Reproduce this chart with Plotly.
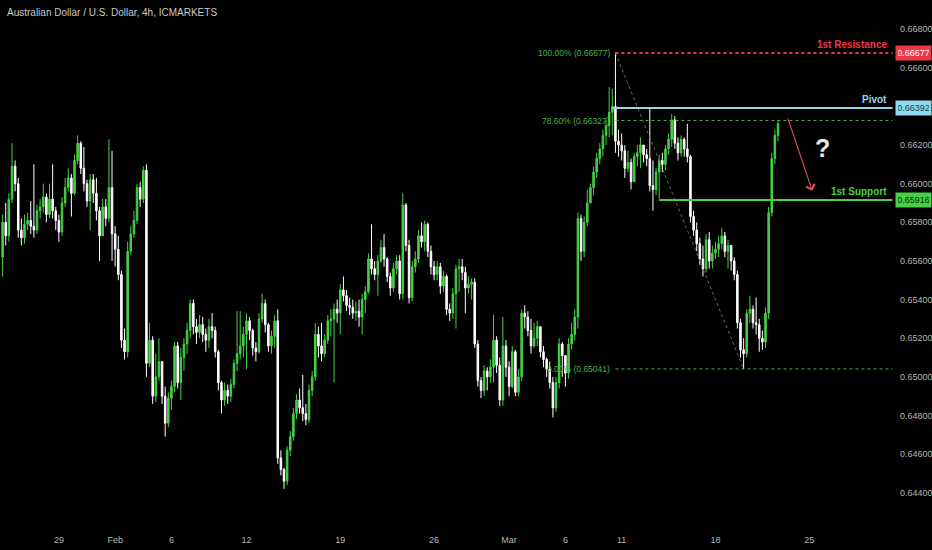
import pandas as pd
import plotly.graph_objects as go

# ---------------- data (prices in pips, 1 pip = 0.0001) ----------------
first_open = 6562
close_pips = [
    6580, 6573, 6592, 6609, 6600, 6576,
    6572, 6579, 6581, 6578, 6576, 6586,
    6588, 6593, 6584, 6592, 6586, 6581,
    6575, 6590, 6598, 6603, 6595, 6612,
    6621, 6608, 6600, 6591, 6602, 6595,
    6586, 6573, 6588, 6582, 6598, 6574,
    6566, 6553, 6519, 6513, 6565, 6574,
    6581, 6598, 6592, 6607, 6507, 6519,
    6490, 6500, 6508, 6490, 6476, 6489,
    6495, 6516, 6497, 6510, 6517, 6524,
    6538, 6526, 6523, 6527, 6522, 6519,
    6526, 6524, 6513, 6497, 6488, 6493,
    6490, 6496, 6507, 6512, 6516, 6522,
    6529, 6524, 6515, 6513, 6530, 6538,
    6527, 6516, 6521, 6529, 6458, 6452,
    6446, 6462, 6469, 6481, 6488, 6484,
    6481, 6478, 6493, 6500, 6522, 6516,
    6512, 6519, 6529, 6530, 6535, 6533,
    6545, 6542, 6537, 6536, 6533, 6534,
    6531, 6540, 6544, 6561, 6556, 6553,
    6560, 6567, 6561, 6552, 6546, 6556,
    6560, 6543, 6589, 6568, 6541, 6557,
    6561, 6573, 6570, 6579, 6565, 6557,
    6553, 6557, 6547, 6552, 6535, 6533,
    6543, 6556, 6557, 6554, 6546, 6548,
    6549, 6517, 6498, 6493, 6503, 6500,
    6505, 6519, 6506, 6488, 6516, 6505,
    6495, 6513, 6492, 6500, 6533, 6531,
    6524, 6516, 6520, 6526, 6513, 6509,
    6504, 6497, 6484, 6497, 6517, 6511,
    6502, 6517, 6522, 6531, 6582, 6565,
    6580, 6590, 6598, 6606, 6613, 6618,
    6625, 6630, 6637, 6640, 6622, 6620,
    6617, 6608, 6611, 6601, 6614, 6616,
    6620, 6615, 6613, 6599, 6597, 6606,
    6612, 6610, 6618, 6623, 6633, 6621,
    6616, 6623, 6618, 6614, 6583, 6576,
    6569, 6561, 6556, 6571, 6560, 6564,
    6566, 6569, 6573, 6565, 6568, 6560,
    6553, 6528, 6514, 6512, 6533, 6535,
    6528, 6527, 6520, 6518, 6533, 6585,
    6613, 6625, 6631,
]
high_pips = [
    6584, 6590, 6595, 6621, 6612, 6603,
    6582, 6584, 6585, 6591, 6610, 6589,
    6592, 6600, 6595, 6600, 6610, 6588,
    6584, 6593, 6603, 6608, 6605, 6615,
    6625, 6622, 6619, 6602, 6605, 6605,
    6603, 6588, 6592, 6592, 6623, 6617,
    6578, 6573, 6555, 6525, 6570, 6578,
    6586, 6600, 6601, 6609, 6610, 6528,
    6521, 6512, 6520, 6508, 6495, 6492,
    6498, 6518, 6518, 6515, 6520, 6528,
    6540, 6540, 6530, 6532, 6531, 6525,
    6530, 6533, 6526, 6514, 6498, 6497,
    6496, 6499, 6509, 6534, 6534, 6526,
    6533, 6531, 6525, 6518, 6533, 6543,
    6540, 6528, 6524, 6532, 6535, 6462,
    6453, 6464, 6472, 6484, 6491, 6494,
    6501, 6486, 6496, 6503, 6528, 6526,
    6528, 6522, 6532, 6535, 6538, 6540,
    6548, 6552, 6545, 6541, 6540, 6539,
    6540, 6543, 6547, 6564, 6579, 6560,
    6563, 6571, 6574, 6562, 6554, 6559,
    6563, 6563, 6595, 6590, 6571, 6560,
    6565, 6576, 6580, 6581, 6580, 6568,
    6560, 6560, 6559, 6555, 6553, 6538,
    6546, 6558, 6561, 6561, 6557, 6552,
    6551, 6551, 6519, 6500, 6506, 6505,
    6509, 6532, 6521, 6510, 6531, 6519,
    6508, 6516, 6514, 6504, 6535, 6537,
    6534, 6530, 6528, 6529, 6526, 6516,
    6510, 6508, 6500, 6500, 6520, 6518,
    6511, 6520, 6528, 6535, 6585, 6584,
    6583, 6597, 6600, 6609, 6616, 6621,
    6628, 6633, 6650, 6649, 6668, 6628,
    6626, 6620, 6617, 6613, 6616, 6620,
    6624, 6619, 6618, 6639, 6612, 6608,
    6615, 6616, 6620, 6626, 6636, 6635,
    6624, 6625, 6624, 6631, 6615, 6586,
    6580, 6572, 6568, 6574, 6575, 6568,
    6570, 6573, 6577, 6575, 6571, 6568,
    6562, 6555, 6530, 6520, 6535, 6542,
    6537, 6541, 6530, 6524, 6536, 6588,
    6616, 6628, 6633,
]
low_pips = [
    6552, 6568, 6570, 6590, 6596, 6572,
    6568, 6569, 6576, 6574, 6572, 6574,
    6582, 6585, 6580, 6582, 6582, 6576,
    6570, 6573, 6588, 6596, 6583, 6594,
    6610, 6605, 6596, 6588, 6576, 6590,
    6581, 6560, 6575, 6578, 6580, 6560,
    6557, 6550, 6515, 6509, 6510, 6563,
    6572, 6579, 6588, 6590, 6500, 6505,
    6486, 6487, 6498, 6486, 6469, 6474,
    6483, 6492, 6494, 6488, 6503, 6512,
    6520, 6522, 6517, 6520, 6518, 6513,
    6515, 6520, 6510, 6493, 6481, 6485,
    6486, 6487, 6494, 6503, 6509, 6510,
    6504, 6519, 6511, 6508, 6512, 6528,
    6523, 6513, 6512, 6515, 6455, 6449,
    6442, 6444, 6459, 6467, 6478, 6481,
    6477, 6475, 6476, 6490, 6498, 6510,
    6508, 6510, 6517, 6521, 6497, 6528,
    6522, 6539, 6534, 6532, 6530, 6529,
    6526, 6522, 6533, 6543, 6553, 6550,
    6542, 6559, 6557, 6549, 6542, 6544,
    6553, 6540, 6540, 6565, 6538, 6539,
    6554, 6559, 6567, 6565, 6562, 6553,
    6550, 6550, 6543, 6544, 6532, 6529,
    6530, 6525, 6544, 6550, 6533, 6543,
    6540, 6515, 6495, 6489, 6490, 6493,
    6497, 6497, 6502, 6485, 6485, 6500,
    6490, 6494, 6490, 6490, 6498, 6525,
    6521, 6512, 6515, 6516, 6510, 6505,
    6500, 6494, 6479, 6482, 6494, 6500,
    6495, 6499, 6514, 6519, 6525, 6560,
    6562, 6578, 6590, 6594, 6603, 6610,
    6614, 6620, 6624, 6625, 6616, 6614,
    6612, 6603, 6606, 6597, 6602, 6609,
    6608, 6611, 6609, 6596, 6586, 6594,
    6592, 6606, 6607, 6615, 6619, 6618,
    6612, 6614, 6614, 6611, 6580, 6573,
    6565, 6558, 6552, 6554, 6556, 6556,
    6561, 6562, 6566, 6562, 6556, 6555,
    6550, 6525, 6510, 6504, 6510, 6528,
    6525, 6522, 6513, 6514, 6515, 6530,
    6583, 6610, 6622,
]

tick_dates = ["2024-01-29", "2024-02-01", "2024-02-06", "2024-02-12", "2024-02-19",
              "2024-02-26", "2024-03-01", "2024-03-06", "2024-03-11", "2024-03-18", "2024-03-25"]
tick_text = ["29", "Feb", "6", "12", "19", "26", "Mar", "6", "11", "18", "25"]
# 0.66400 is hidden behind the pivot price tag in the reference
price_ticks = [0.644, 0.646, 0.648, 0.650, 0.652, 0.654, 0.656, 0.658,
               0.660, 0.662, 0.666, 0.668]

resistance = 0.66677
pivot = 0.66392
support = 0.65916
fib_786 = 0.66327
fib_0 = 0.65041
title_text = "Australian Dollar / U.S. Dollar, 4h, ICMARKETS"

# ---------------- build series ----------------
days = pd.bdate_range("2024-01-24", "2024-03-21")
times = [d + pd.Timedelta(hours=h) for d in days for h in range(0, 24, 4)][:len(close_pips)]
closes = [c / 10000 for c in close_pips]
opens = [first_open / 10000] + closes[:-1]
highs = [max(h / 10000, o, c) for h, o, c in zip(high_pips, opens, closes)]
lows = [min(l / 10000, o, c) for l, o, c in zip(low_pips, opens, closes)]

GREEN = "#45d145"
WHITE = "#ffffff"
NARROW = "Liberation Sans Narrow, Liberation Sans"

fig = go.Figure()
fig.add_trace(go.Candlestick(
    x=times, open=opens, high=highs, low=lows, close=closes,
    increasing=dict(line=dict(color=GREEN, width=1), fillcolor=GREEN),
    decreasing=dict(line=dict(color=WHITE, width=1), fillcolor=WHITE),
    hoverinfo="skip", showlegend=False,
))

x_start = "2024-01-23 20:40"
x_end = "2024-03-29 13:40"
line_end = "2024-03-29 10:30"
hi_t = times[196]
lo_t = times[237]

shapes = [
    dict(type="line", xref="x", yref="y", x0=hi_t, x1=line_end, y0=fib_786, y1=fib_786,
         line=dict(color="#4caf50", width=1, dash="dot")),
    dict(type="line", xref="x", yref="y", x0=hi_t, x1=line_end, y0=fib_0, y1=fib_0,
         line=dict(color="#4caf50", width=1, dash="dot")),
    dict(type="line", xref="x", yref="y", x0=hi_t, x1=lo_t, y0=resistance, y1=fib_0,
         line=dict(color="#5d6e5d", width=1, dash="dot")),
    dict(type="line", xref="x", yref="y", x0=hi_t, x1=line_end, y0=resistance, y1=resistance,
         line=dict(color="#f23645", width=2, dash="dot")),
    dict(type="line", xref="x", yref="y", x0=times[195], x1=line_end, y0=pivot, y1=pivot,
         line=dict(color="#8fd9ee", width=2)),
    dict(type="line", xref="x", yref="y", x0=times[210], x1=line_end, y0=support, y1=support,
         line=dict(color="#45d145", width=2)),
]

ann = []
ann.append(dict(text=title_text, xref="paper", yref="paper", x=0.006, y=0.977,
                xanchor="left", yanchor="middle", showarrow=False,
                font=dict(size=10, color="#c9c9c9", family=NARROW)))
for lvl, txt in [(resistance, "100.00% (0.66677)"), (fib_786, "78.60% (0.66327)"),
                 (fib_0, "0.00% (0.65041)")]:
    ann.append(dict(text=txt, xref="x", yref="y", x=hi_t, y=lvl, xanchor="right",
                    yanchor="middle", xshift=-3, showarrow=False,
                    font=dict(size=8.5, color="#4caf50", family=NARROW)))
for lvl, txt, col in [(resistance, "1st Resistance", "#f23645"), (pivot, "Pivot", "#8fd9ee"),
                      (support, "1st Support", "#45d145")]:
    ann.append(dict(text="<b>" + txt + "</b>", xref="paper", yref="y", x=0.9935, y=lvl,
                    xanchor="right", yanchor="bottom", yshift=1, showarrow=False,
                    font=dict(size=10, color=col, family="Liberation Sans")))
for lvl, bg, fg in [(resistance, "#f23645", "#ffffff"), (pivot, "#8fd9ee", "#10394a"),
                    (support, "#45d145", "#0b2e0b")]:
    ann.append(dict(text="%.5f" % lvl, xref="paper", yref="y", x=1.0, y=lvl,
                    xanchor="left", yanchor="middle", showarrow=False, bgcolor=bg,
                    borderpad=2, width=31,
                    font=dict(size=9, color=fg, family=NARROW)))
ann.append(dict(text="", xref="x", yref="y", x="2024-03-25 03:50", y=0.65963,
                axref="x", ayref="y", ax="2024-03-21 19:55", ay=0.66346,
                showarrow=True, arrowhead=4, arrowsize=1.6, arrowwidth=1.1,
                arrowcolor="#f05050"))
ann.append(dict(text="<b>?</b>", xref="x", yref="y", x="2024-03-25 16:30", y=0.66185,
                showarrow=False, font=dict(size=25, color="#e6e6e6", family="Liberation Sans")))

fig.update_layout(
    width=932, height=550,
    margin=dict(l=0, r=37, t=0, b=25),
    paper_bgcolor="#000000", plot_bgcolor="#000000",
    shapes=shapes, annotations=ann,
    hovermode=False,
    xaxis=dict(
        type="date", range=[x_start, x_end],
        rangebreaks=[dict(bounds=["sat", "mon"])],
        rangeslider=dict(visible=False),
        showgrid=False, zeroline=False, showline=False,
        tickmode="array", tickvals=tick_dates, ticktext=tick_text,
        ticks="", ticklabelstandoff=8,
        tickfont=dict(size=9, color="#b5b5b5", family=NARROW),
    ),
    yaxis=dict(
        side="right", range=[0.64233, 0.66951],
        showgrid=False, zeroline=False, showline=False,
        tickmode="array", tickvals=price_ticks,
        ticktext=["%.5f" % v for v in price_ticks],
        ticks="", ticklabelstandoff=4,
        tickfont=dict(size=9, color="#b5b5b5", family=NARROW),
    ),
)

fig.write_html(
    "out.html",
    config={"displayModeBar": False},
    post_script="document.body.style.margin='0';document.body.style.background='#000';",
)
